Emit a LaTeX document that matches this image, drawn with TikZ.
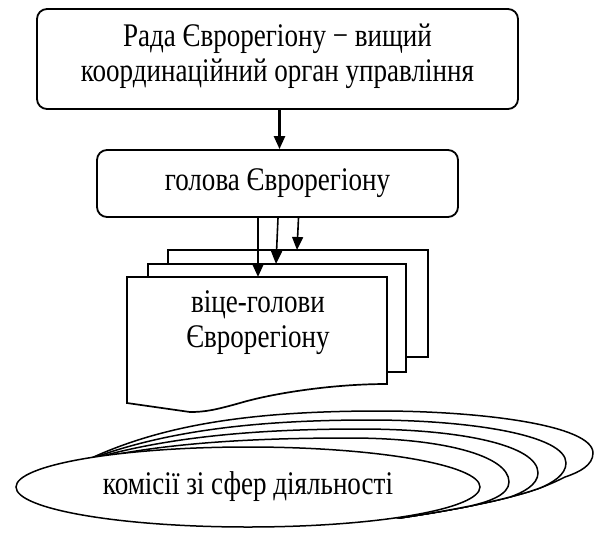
\documentclass[tikz,border=0pt]{standalone}
\usepackage{fontspec}
\setmainfont{Liberation Serif}[FakeStretch=0.82]
\usetikzlibrary{arrows.meta,shapes.geometric}
\begin{document}
\begin{tikzpicture}[x=1pt,y=-1pt,
  txt/.style={font=\fontsize{33pt}{35pt}\selectfont, align=center, text=black, inner sep=0pt},
  rbox/.style={draw, line width=1.8pt, rounded corners=10pt, fill=white, inner sep=0pt},
  docshape/.style={draw, line width=1.7pt, fill=white, line join=miter},
  ell/.style={draw, line width=1.5pt, fill=white},
  arr/.style={line width=2.4pt, -{Triangle[length=13pt,width=11pt]}},
  arrthin/.style={line width=1.6pt, -{Triangle[length=13pt,width=11pt]}}]
\useasboundingbox (0,0) rectangle (597,541);
% boxes
\node[rbox, minimum width=481pt, minimum height=100pt] (rada) at (277.5,59) {};
\node[txt] (radatxt) at (277.5,56)
  {Рада Єврорегіону − вищий\\координаційний орган управління};
\node[rbox, txt, minimum width=361pt, minimum height=67pt] (holova) at (277.5,183.5)
  {голова Єврорегіону};
\draw[arr] ([xshift=2pt]rada.south) -- ([xshift=2pt]holova.north);
% documents
\draw[docshape] (168,250) rectangle (428,357);
\draw[docshape] (148,264) rectangle (406,372);
\draw[docshape] (127,277) -- (387,277) -- (387,384)
  .. controls (330,384) and (270,394) .. (240,403)
  .. controls (215,410) and (205,412) .. (190,412) -- (127,403) -- cycle;
\node[txt] (vice) at (258,323) {віце-голови\\Єврорегіону};
\coordinate (d1) at (258,277);
\coordinate (d2) at (276,264);
\coordinate (d3) at (297,250);
\draw[arr] (d1 |- holova.south) -- (d1);
\draw[arrthin] ([xshift=2pt]d2 |- holova.south) -- (d2);
\draw[arrthin] ([xshift=1.5pt]d3 |- holova.south) -- (d3);
% back ellipses
\draw[ell] (85,461) .. controls (160,425) and (250,411) .. (380,411)
  .. controls (480,411) and (593,425) .. (593,453)
  .. controls (593,465) and (580,472) .. (565,477)
  .. controls (556.7,481.2) and (548.3,484.9) .. (540,488)
  .. controls (530,491.7) and (520,494.4) .. (510,497)
  .. controls (496.7,500.5) and (483.3,503.3) .. (470,506)
  .. controls (446.7,510.7) and (423.3,514.5) .. (400,518) -- cycle;
\draw[ell] (85,461) .. controls (160,432) and (250,420) .. (370,420)
  .. controls (470,420) and (566,435) .. (566,463)
  .. controls (566,475) and (552,483) .. (540,488)
  .. controls (530,491.7) and (520,494.4) .. (510,497)
  .. controls (496.7,500.5) and (483.3,503.3) .. (470,506)
  .. controls (446.7,510.7) and (423.3,514.5) .. (400,518) -- cycle;
\draw[ell] (85,461) .. controls (160,438) and (250,429) .. (360,429)
  .. controls (460,429) and (538,445) .. (538,473)
  .. controls (538,485) and (522,493) .. (510,497)
  .. controls (496.7,500.5) and (483.3,503.3) .. (470,506)
  .. controls (446.7,510.7) and (423.3,514.5) .. (400,518) -- cycle;
\draw[ell] (85,461) .. controls (160,443) and (250,438) .. (350,438)
  .. controls (440,438) and (509,455) .. (509,482)
  .. controls (509,495) and (488,502) .. (470,506)
  .. controls (446.7,510.7) and (423.3,514.5) .. (400,518) -- cycle;
\node[ell, ellipse, txt, minimum width=464pt, minimum height=80pt] (kom) at (248,487)
  {комісії зі сфер діяльності};
\end{tikzpicture}
\end{document}
